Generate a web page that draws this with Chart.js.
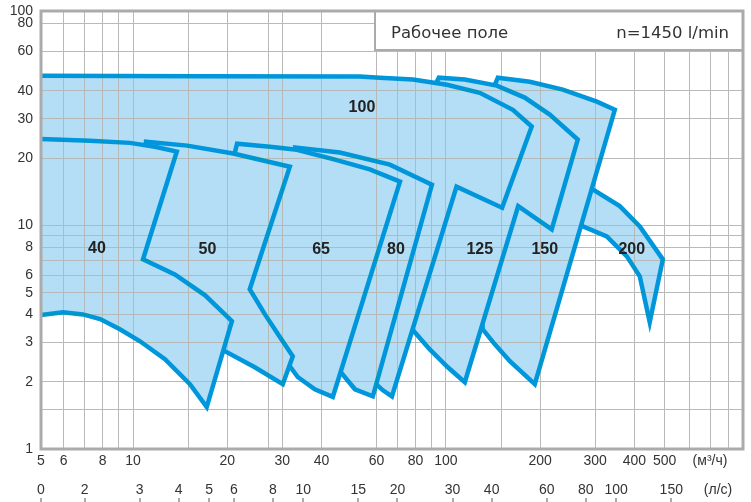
<!DOCTYPE html>
<html lang="ru">
<head>
<meta charset="utf-8">
<title>Рабочее поле</title>
<script src="https://cdn.jsdelivr.net/npm/chart.js@4.4.1/dist/chart.umd.min.js"></script>
<style>
  html, body { margin: 0; padding: 0; background: #fff; overflow: hidden; }
  canvas { display: block; }
</style>
</head>
<body>
<canvas id="fieldChart" width="751" height="502"></canvas>
<script>
// axis ranges: flow in m3/h (x), head in m (y)
const flowMin = 5.08;
const flowMax = 890;
const headMin = 1;
const headMax = 91;
const flowPerLps = 3.5; // how the l/s scale is printed under the m3/h scale

// grid lines and labelled ticks
const flowGrid = [6, 7, 8, 9, 10, 15, 20, 27, 30, 40, 60, 70, 80, 90, 100, 150, 200, 300, 400, 500, 600, 700, 800];
const flowLabels = [5, 6, 8, 10, 20, 30, 40, 60, 80, 100, 200, 300, 400, 500];
const headGrid = [1.5, 2, 3, 4, 5, 6, 7, 8, 9, 10, 20, 30, 40, 60, 80];
const headLabels = [1, 2, 3, 4, 5, 6, 8, 10, 20, 30, 40, 60, 80, 100];
const lpsLabels = [0, 2, 3, 4, 5, 6, 8, 10, 15, 20, 30, 40, 60, 80, 100, 150];

// working field outlines (flow, head)
const field40Flow = [4.8, 7.28, 9.77, 11.75, 13.8, 10.76, 13.6, 17.0, 20.7, 17.2, 15.2, 12.65, 10.5, 9.08, 7.85, 6.92, 5.97, 5.08, 4.8, 4.8];
const field40Head = [24.4, 23.9, 23.4, 22.5, 21.4, 7.05, 6.04, 4.87, 3.73, 1.54, 1.95, 2.52, 3.04, 3.43, 3.81, 4.0, 4.09, 3.97, 3.95, 24.4];

const field50Flow = [9.08, 10.9, 11.0, 14.9, 20.9, 31.7, 23.6, 26.4, 29.5, 32.4, 30.1, 24.5, 19.66, 15.8, 12.19, 9.08];
const field50Head = [8.66, 19.7, 23.7, 22.75, 20.97, 18.3, 5.18, 4.0, 3.16, 2.6, 1.95, 2.32, 2.74, 3.43, 4.67, 8.66];

const field65Flow = [16.36, 20.7, 21.5, 27.4, 33.4, 44.2, 57.1, 71.3, 43.5, 38.1, 33.6, 27.4, 16.36];
const field65Head = [7.81, 18.7, 23.2, 22.5, 21.8, 19.7, 17.8, 15.7, 1.71, 1.85, 2.1, 3.1, 7.81];

const field80Flow = [42.6, 34.1, 33.1, 45.8, 66.2, 90.2, 58.4, 51.2, 42.6, 42.6];
const field80Head = [7.81, 18.7, 22.3, 21.2, 18.7, 15.2, 1.72, 1.85, 2.52, 7.81];

const field100Flow = [4.8, 4.8, 16.36, 53.1, 61.5, 78.4, 100.7, 128.3, 163.6, 188, 151.2, 108.1, 67.2, 62.9, 59.3, 53.1, 42.6, 23.6, 11.3, 4.8];
const field100Head = [20, 46.7, 46.5, 46.3, 45.8, 44.9, 42.6, 39.2, 32.9, 27.7, 12.0, 14.9, 1.72, 1.83, 1.97, 3.43, 9.6, 15.2, 17.4, 20];

const field125Flow = [87.5, 90.9, 94.9, 114.9, 145.4, 178.6, 214.7, 263.8, 217.8, 170.2, 114.9, 101.4, 88.8, 78.0, 82.5, 87.5];
const field125Head = [21.8, 40.5, 45.8, 44.9, 42.2, 37.3, 31.3, 24.2, 9.6, 12.2, 1.99, 2.32, 2.79, 3.43, 5.18, 21.8];

const field150Flow = [148.7, 141.2, 146.5, 185.4, 236.3, 303.7, 346.5, 192.3, 160.1, 143.3, 131.2, 128.3, 148.7];
const field150Head = [21.8, 40.5, 45.8, 43.9, 40.5, 35.8, 32.9, 1.95, 2.47, 2.94, 3.43, 4.67, 21.8];

const field200Flow = [258.1, 294.6, 359.4, 416.4, 493.3, 448, 416.4, 378.6, 326.6, 273.8, 248.7, 258.1];
const field200Head = [16.9, 14.5, 12.2, 9.9, 7.05, 3.69, 5.92, 7.27, 8.93, 9.9, 11.2, 16.9];

// field names and where they sit
const fieldNames = ['40', '50', '65', '80', '100', '125', '150', '200'];
const nameFlow = [7.67, 17.3, 39.9, 69.2, 53.9, 128.3, 207, 392.6];
const nameHead = [7.89, 7.81, 7.81, 7.81, 33.6, 7.81, 7.81, 7.81];

const fontFamily = '"Liberation Sans", Arial, sans-serif';
const gridColor = '#b9b9b9';

function outline(flow, head) {
  return flow.map((q, i) => ({ x: q, y: head[i] }));
}

function clampTo(v, min, max) {
  return Math.min(Math.max(v, min), max);
}

// ticks at the grid values plus the labelled values (out-of-range labels sit on the edge)
function setTicks(scale, grid, labels, min, max) {
  const values = new Set(grid);
  labels.forEach(v => values.add(clampTo(v, min, max)));
  scale.ticks = [...values].sort((a, b) => a - b).map(v => ({ value: v }));
}

function labelFor(value, labels, min, max) {
  const found = labels.find(l => Math.abs(clampTo(l, min, max) - value) < 1e-9);
  return found === undefined ? '' : String(found);
}

const fieldStyle = {
  borderColor: '#0096dc',
  backgroundColor: '#b4def5',
  borderWidth: 4.5,
  borderJoinStyle: 'miter',
  pointRadius: 0,
  tension: 0,
  fill: 'shape',
  clip: 0
};

const decorations = {
  id: 'decorations',
  afterDatasetsDraw(chart) {
    // grid is drawn after the fields; darken keeps it visible on the fill but not over the outlines
    chart.ctx.globalCompositeOperation = 'darken';
  },
  afterDraw(chart) {
    const { ctx, chartArea: a, scales } = chart;
    ctx.globalCompositeOperation = 'source-over';
    ctx.save();

    // field names
    ctx.font = 'bold 16px ' + fontFamily;
    ctx.fillStyle = '#222';
    ctx.textAlign = 'center';
    ctx.textBaseline = 'middle';
    fieldNames.forEach((name, i) => {
      ctx.fillText(name, scales.x.getPixelForValue(nameFlow[i]), scales.y.getPixelForValue(nameHead[i]));
    });

    // title box
    const boxLeft = a.right - 368;
    const boxBottom = a.top + 39;
    ctx.fillStyle = '#fff';
    ctx.fillRect(boxLeft, a.top, a.right - boxLeft, boxBottom - a.top);
    ctx.strokeStyle = '#ababab';
    ctx.lineWidth = 2;
    ctx.strokeRect(boxLeft, a.top, a.right - boxLeft, boxBottom - a.top);
    ctx.fillStyle = '#333';
    ctx.font = '16.5px "DejaVu Sans", sans-serif';
    ctx.textBaseline = 'alphabetic';
    ctx.textAlign = 'left';
    ctx.fillText('Рабочее поле', boxLeft + 16, a.top + 27);
    ctx.textAlign = 'right';
    ctx.fillText('n=1450 l/min', a.right - 14, a.top + 27);

    // plot frame
    ctx.strokeStyle = '#ababab';
    ctx.lineWidth = 3;
    ctx.strokeRect(a.left, a.top, a.right - a.left, a.bottom - a.top);

    // small marks under the l/s labels
    const lps = scales.lps;
    ctx.fillStyle = '#aaa';
    lpsLabels.forEach(v => {
      const px = lps.getPixelForValue(clampTo(v, lps.min, lps.max));
      ctx.fillRect(Math.round(px) - 1, lps.bottom - 4, 2, 4);
    });

    // units
    ctx.fillStyle = '#333';
    ctx.font = '14px ' + fontFamily;
    ctx.textAlign = 'center';
    ctx.textBaseline = 'middle';
    ctx.fillText('(м³/ч)', a.right - 33, scales.x.top + 12);
    ctx.fillText('(л/с)', a.right - 25, lps.top + 14);

    ctx.restore();
  }
};

const ctx = document.getElementById('fieldChart').getContext('2d');

new Chart(ctx, {
  type: 'line',
  data: {
    datasets: [
      { label: '40', data: outline(field40Flow, field40Head), ...fieldStyle },
      { label: '50', data: outline(field50Flow, field50Head), ...fieldStyle },
      { label: '65', data: outline(field65Flow, field65Head), ...fieldStyle },
      { label: '80', data: outline(field80Flow, field80Head), ...fieldStyle },
      { label: '100', data: outline(field100Flow, field100Head), ...fieldStyle },
      { label: '125', data: outline(field125Flow, field125Head), ...fieldStyle },
      { label: '150', data: outline(field150Flow, field150Head), ...fieldStyle },
      { label: '200', data: outline(field200Flow, field200Head), ...fieldStyle }
    ]
  },
  options: {
    responsive: false,
    animation: false,
    devicePixelRatio: 1,
    events: [],
    layout: { padding: { top: 11, right: 8, left: 0, bottom: 0 } },
    plugins: {
      legend: { display: false },
      tooltip: { enabled: false }
    },
    scales: {
      x: {
        type: 'logarithmic',
        position: 'bottom',
        weight: 1,
        min: flowMin,
        max: flowMax,
        afterBuildTicks: s => setTicks(s, flowGrid, flowLabels, flowMin, flowMax),
        afterFit: s => { s.height = 27; s.paddingLeft = 0; s.paddingRight = 0; },
        ticks: {
          autoSkip: false,
          maxRotation: 0,
          padding: 4,
          color: '#333',
          font: { family: fontFamily, size: 14 },
          callback: v => labelFor(v, flowLabels, flowMin, flowMax)
        },
        grid: { color: gridColor, lineWidth: 1, drawTicks: false, z: 1 },
        border: { display: false }
      },
      lps: {
        type: 'logarithmic',
        position: 'bottom',
        weight: 2,
        min: flowMin / flowPerLps,
        max: flowMax / flowPerLps,
        afterBuildTicks: s => setTicks(s, [], lpsLabels, s.min, s.max),
        afterFit: s => { s.height = 26; s.paddingLeft = 0; s.paddingRight = 0; },
        ticks: {
          autoSkip: false,
          maxRotation: 0,
          padding: 6,
          color: '#333',
          font: { family: fontFamily, size: 14 },
          callback: v => labelFor(v, lpsLabels, flowMin / flowPerLps, flowMax / flowPerLps)
        },
        grid: { display: false, drawTicks: false },
        border: { display: false }
      },
      y: {
        type: 'logarithmic',
        position: 'left',
        min: headMin,
        max: headMax,
        afterBuildTicks: s => setTicks(s, headGrid, headLabels, headMin, headMax),
        afterFit: s => { s.width = 41; s.paddingTop = 0; s.paddingBottom = 0; },
        ticks: {
          autoSkip: false,
          padding: 8,
          color: '#333',
          font: { family: fontFamily, size: 14 },
          callback: v => labelFor(v, headLabels, headMin, headMax)
        },
        grid: { color: gridColor, lineWidth: 1, drawTicks: false, z: 1 },
        border: { display: false }
      }
    }
  },
  plugins: [decorations]
});
</script>
</body>
</html>
